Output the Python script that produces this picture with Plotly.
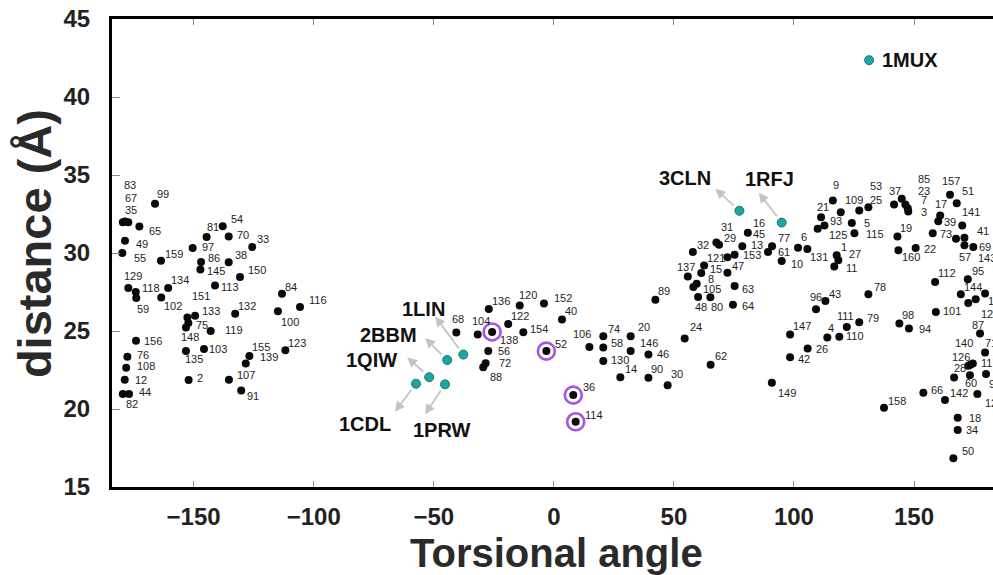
import plotly.graph_objects as go

# ---- residue-pair measurements: id, torsional angle (deg), distance (Å) ----
pair_ids = [
    "83", "67", "35", "99", "65", "49", "55", "159", "97", "81", "54", "70", "33",
    "86", "145", "38", "150", "113", "129", "118", "59", "134", "102", "84", "116",
    "132", "151", "133", "75", "148", "119", "100", "156", "103", "135", "155",
    "139", "123", "76", "108", "12", "2", "107", "91", "44", "82",
    "136", "120", "152", "122", "68", "104", "138", "154", "56", "72", "88", "52",
    "40", "106", "74", "58", "130", "20", "146", "46", "14", "90", "30", "24", "62",
    "89", "36", "114",
    "32", "137", "121", "15", "8", "105", "48", "80", "47", "63", "64", "153", "13",
    "45", "16", "31", "29", "77", "61", "10", "6", "131", "21", "9", "109", "93",
    "125", "5", "115", "1", "27", "11", "96", "43",
    "53", "25", "37", "85", "23", "7", "3", "157", "51", "17", "39", "141", "73",
    "41", "69", "57", "143", "19", "160", "22", "112", "95", "144", "128", "127", "",
    "78", "101", "87", "71", "140", "126", "117", "28", "60", "92", "124", "142",
    "66", "158", "18", "34", "50", "147", "4", "110", "111", "79", "26", "42", "149",
    "98", "94",
]
torsion = [
    -177.2, -178.6, -179.5, -166.1, -172.6, -178.6, -179.7, -163.6, -150.4, -144.6,
    -137.9, -135.4, -125.6, -146.9, -147.2, -135.4, -130.7, -141.1, -177.2, -174.1,
    -173.9, -160.6, -163.5, -113.2, -105.7, -132.7, -152.6, -149.4, -152.2, -153.2,
    -142.9, -114.9, -174.0, -145.7, -153.2, -126.8, -128.3, -111.8, -177.6, -178.1,
    -178.7, -152.1, -135.3, -130.2, -176.9, -179.5,
    -27.1, -14.2, -4.1, -19.0, -40.6, -31.7, -25.7, -12.7, -27.3, -28.4, -29.4, -3.1,
    3.4, 14.8, 20.6, 20.6, 20.6, 32.0, 32.0, 39.4, 27.7, 39.4, 47.4, 54.5, 65.3,
    42.3, 8.1, 9.1,
    57.9, 55.8, 62.6, 61.4, 59.5, 58.1, 60.1, 65.2, 72.3, 75.3, 74.6, 72.3, 75.3,
    78.5, 80.8, 67.7, 68.8, 90.9, 89.2, 94.9, 101.7, 105.6, 111.3, 116.2, 119.5,
    112.7, 109.9, 124.1, 125.2, 117.8, 118.5, 116.8, 109.2, 113.1,
    131.0, 127.2, 141.7, 144.9, 146.4, 147.4, 147.6, 165.0, 167.8, 160.9, 160.1,
    170.1, 157.8, 171.0, 174.7, 171.0, 167.5, 143.1, 143.5, 150.7, 158.8, 172.4,
    169.5, 179.6, 175.7, 172.6,
    131.0, 159.1, 177.5, 179.6, 173.5, 172.6, 174.5, 166.7, 173.3, 180.0, 176.4,
    162.9, 153.9, 137.5, 168.2, 168.2, 166.4, 98.4, 113.9, 118.9, 122.0, 127.2,
    105.7, 98.4, 90.8, 143.9, 147.9,
]
distance = [
    31.97, 32.02, 31.97, 33.16, 31.70, 30.78, 30.00, 29.51, 30.32, 31.02, 31.72,
    31.06, 30.38, 29.42, 28.94, 29.40, 28.46, 27.91, 27.75, 27.50, 27.12, 27.75,
    27.14, 27.38, 26.54, 26.10, 25.87, 25.97, 25.52, 25.22, 25.00, 26.26, 24.37,
    23.85, 23.71, 23.39, 22.92, 23.77, 23.35, 22.64, 21.88, 21.86, 21.88, 21.19,
    20.96, 20.96,
    26.41, 26.63, 26.76, 25.45, 24.90, 24.78, 24.94, 24.92, 23.71, 22.94, 22.67,
    23.71, 25.74, 23.98, 24.67, 23.94, 23.07, 24.67, 23.72, 23.49, 22.04, 22.00,
    21.52, 24.52, 22.83, 27.01, 20.89, 19.18,
    30.06, 28.50, 29.20, 28.72, 28.03, 27.82, 27.18, 27.16, 28.74, 27.88, 26.69,
    29.72, 29.89, 30.43, 31.30, 30.67, 30.53, 30.43, 30.06, 29.48, 30.34, 30.25,
    32.29, 33.36, 32.62, 31.77, 31.56, 31.92, 31.27, 29.85, 29.53, 29.14, 26.39,
    26.92,
    32.94, 32.72, 33.11, 33.47, 33.11, 32.87, 32.66, 33.74, 33.19, 32.40, 32.04,
    31.77, 31.27, 30.98, 30.38, 30.49, 30.91, 31.06, 30.17, 30.32, 28.14, 28.31,
    27.36, 27.40, 27.03, 26.80,
    27.36, 26.22, 24.84, 23.62, 22.83, 22.77, 22.92, 22.02, 22.17, 22.25, 20.96,
    20.57, 21.04, 20.08, 19.44, 18.66, 16.85, 24.78, 24.59, 24.63, 25.26, 25.56,
    23.88, 23.31, 21.68, 25.48, 25.16,
]

# pairs highlighted with a ring
ringed_ids = ["138", "52", "36", "114"]

# reference structures
struct_names = ["1LIN", "2BBM", "1QIW", "1CDL", "1PRW", "3CLN", "1RFJ", "1MUX"]
struct_torsion = [-37.7, -44.4, -51.9, -57.4, -45.3, 77.3, 94.9, 131.3]
struct_distance = [23.49, 23.14, 22.04, 21.62, 21.58, 32.71, 31.95, 42.36]

# ---- label placement (pixel offsets of the label's left edge from its dot) ----
DEFAULT_OFFSET = (6, -6)
label_offset = {
    "83": (-6, -37), "67": (-2, -23), "35": (0, -12), "99": (0, -10), "65": (8, 5),
    "49": (9, 3), "55": (10, 5), "159": (2, -7), "97": (7, -1), "81": (-2, -10),
    "54": (6, -7), "70": (6, -1), "33": (3, -8), "86": (5, -4), "145": (5, 1),
    "38": (4, -7), "150": (6, -7), "113": (4, 1), "129": (-6, -12), "118": (4, -4),
    "59": (-1, 11), "134": (1, -8), "102": (1, 8), "84": (1, -7), "116": (7, -7),
    "132": (1, -8), "151": (3, -21), "133": (5, -5), "75": (6, 2), "148": (-7, 9),
    "119": (12, -1), "100": (1, 11), "156": (6, 0), "103": (3, 0), "135": (-3, 8),
    "155": (1, -9), "139": (12, -6), "123": (1, -7), "76": (8, -2), "108": (9, -2),
    "12": (8, 0), "2": (6, -2), "107": (6, -5), "91": (4, 6), "44": (8, -2),
    "82": (1, 10),
    "136": (1, -8), "120": (-3, -11), "152": (8, -6), "122": (1, -8), "68": (-6, -14),
    "104": (-8, -13), "138": (6, 8), "154": (5, -3), "56": (8, 0), "72": (11, 0),
    "88": (5, 10), "52": (7, -7), "40": (1, -8), "106": (-18, -13), "74": (3, -7),
    "58": (6, -5), "130": (6, -1), "20": (5, -9), "146": (7, -8), "46": (7, -1),
    "14": (3, -8), "90": (1, -9), "30": (1, -11), "24": (3, -11), "62": (2, -9),
    "89": (1, -9), "36": (8, -8), "114": (7, -7),
    "32": (2, -7), "137": (-13, -9), "121": (1, -7), "15": (7, -4), "8": (9, -5),
    "105": (8, 2), "48": (-5, 10), "80": (-1, 10), "47": (3, -7), "63": (5, 3),
    "64": (7, 1), "153": (14, -2), "13": (14, -10), "45": (9, -12), "16": (3, -10),
    "31": (3, -16), "29": (3, -7), "77": (4, -8), "61": (8, 0), "10": (7, 3),
    "6": (1, -11), "131": (1, 8), "21": (-6, -10), "9": (-2, -16), "109": (2, -12),
    "93": (4, -4), "125": (9, 6), "5": (10, 0), "115": (10, 1), "1": (2, -8),
    "27": (9, -6), "11": (10, 2), "96": (-8, -12), "43": (2, -7),
    "53": (0, -21), "25": (9, -11), "37": (-7, -13), "85": (14, -20), "23": (11, -13),
    "7": (11, -8), "3": (11, 0), "157": (-10, -14), "51": (3, -12), "17": (-7, -12),
    "39": (4, 1), "141": (-2, -13), "73": (5, 1), "41": (11, -7), "69": (4, 0),
    "57": (-7, 12), "143": (20, 19), "19": (1, -8), "160": (2, 7), "22": (6, 1),
    "112": (1, -9), "95": (2, -8), "144": (1, -7), "128": (1, 7), "127": (3, 15),
    "78": (4, -7), "101": (5, -1), "87": (-10, -9), "71": (-2, -10), "140": (-17, -22),
    "126": (-18, -9), "117": (6, 0), "28": (-2, -9), "60": (-7, 8), "92": (1, 10),
    "124": (6, 9), "142": (3, -7), "66": (6, -3), "158": (2, -7), "18": (9, 0),
    "34": (6, 0), "50": (7, -7), "147": (1, -8), "4": (-1, -9), "110": (5, -1),
    "111": (-12, -11), "79": (6, -4), "26": (6, 1), "42": (6, 2), "149": (4, 10),
    "98": (1, -9), "94": (8, 0),
}
# structure names: label centre offset and arrow-tip offset from the dot (px)
struct_label_offset = {
    "1LIN": (-40, -46), "2BBM": (-59, -25), "1QIW": (-58, -17), "1CDL": (-51, 40),
    "1PRW": (-3, 46), "3CLN": (-54, -33), "1RFJ": (-12, -44),
}
struct_arrow_tip = {
    "1LIN": (-28, -38), "2BBM": (-22, -22), "1QIW": (-22, -20), "1CDL": (-21, 28),
    "1PRW": (-20, 30), "3CLN": (-24, -22), "1RFJ": (-23, -30),
}

FONT = "Liberation Sans, Arial, sans-serif"
TEXT = "#1e1e1e"

fig = go.Figure()

# rings behind the highlighted pairs
ring_x = [torsion[pair_ids.index(r)] for r in ringed_ids]
ring_y = [distance[pair_ids.index(r)] for r in ringed_ids]
fig.add_trace(go.Scatter(
    x=ring_x, y=ring_y, mode="markers", hoverinfo="skip", cliponaxis=False,
    marker=dict(symbol="circle-open", size=17, line=dict(width=2.6, color="#a653e8"),
                color="#a653e8"),
))

# all residue pairs
fig.add_trace(go.Scatter(
    x=torsion, y=distance, mode="markers", text=pair_ids, cliponaxis=False,
    marker=dict(size=8, color="#0a0a0a", line=dict(width=0)),
))

# reference structures
fig.add_trace(go.Scatter(
    x=struct_torsion, y=struct_distance, mode="markers", text=struct_names,
    cliponaxis=False,
    marker=dict(size=9, color="#1fa3a3", line=dict(width=1, color="#137777")),
))

annotations = []
for pid, xv, yv in zip(pair_ids, torsion, distance):
    if not pid:
        continue
    dx, dy = label_offset.get(pid, DEFAULT_OFFSET)
    annotations.append(dict(
        x=xv, y=yv, xref="x", yref="y", text=pid, showarrow=False,
        xanchor="left", yanchor="middle", xshift=dx, yshift=-dy,
        font=dict(family=FONT, size=11, color=TEXT),
    ))

for name, xv, yv in zip(struct_names, struct_torsion, struct_distance):
    if name in struct_arrow_tip:
        tx, ty = struct_arrow_tip[name]
        annotations.append(dict(
            x=xv, y=yv, xref="x", yref="y", text="", showarrow=True,
            xshift=tx, yshift=-ty, ax=-tx, ay=-ty,
            arrowhead=2, arrowsize=1.1, arrowwidth=1.8, arrowcolor="#c3c3c3",
            startstandoff=6,
        ))
        lx, ly = struct_label_offset[name]
        annotations.append(dict(
            x=xv, y=yv, xref="x", yref="y", text=name, showarrow=False,
            xanchor="center", yanchor="middle", xshift=lx, yshift=-ly,
            font=dict(family=FONT, size=20, color="#111111", weight="bold"),
        ))
    else:
        annotations.append(dict(
            x=xv, y=yv, xref="x", yref="y", text=name, showarrow=False,
            xanchor="left", yanchor="middle", xshift=11, yshift=0,
            font=dict(family=FONT, size=20, color="#111111", weight="bold"),
        ))

# axis titles
annotations.append(dict(
    x=0.505, y=-0.142, xref="paper", yref="paper", text="Torsional angle",
    showarrow=False, xanchor="center", yanchor="middle",
    font=dict(family=FONT, size=40, color="#2a2a2a", weight="bold"),
))
annotations.append(dict(
    x=-0.088, y=0.52, xref="paper", yref="paper", text="distance (Å)",
    showarrow=False, xanchor="center", yanchor="middle", textangle=-90,
    font=dict(family=FONT, size=47, color="#2a2a2a", weight="bold"),
))

tick_font = dict(family=FONT, size=24, color="#222222", weight="bold")

fig.update_layout(
    width=993, height=575,
    margin=dict(l=112, r=0, t=19, b=88, pad=0),
    paper_bgcolor="white", plot_bgcolor="white",
    showlegend=False,
    annotations=annotations,
    xaxis=dict(
        range=[-184, 182.9], tickvals=[-150, -100, -50, 0, 50, 100, 150],
        ticks="inside", ticklen=6, tickwidth=1, tickcolor="#8a8a8a",
        showline=True, linewidth=3, linecolor="#000000", mirror="allticks",
        showgrid=False, zeroline=False, tickfont=tick_font,
        ticklabelstandoff=6, automargin=False,
    ),
    yaxis=dict(
        range=[15, 45], tickvals=[15, 20, 25, 30, 35, 40, 45],
        ticks="inside", ticklen=8, tickwidth=1, tickcolor="#8a8a8a",
        showline=True, linewidth=3, linecolor="#000000", mirror=False,
        showgrid=False, zeroline=False, tickfont=tick_font,
        ticklabelstandoff=14, automargin=False,
    ),
)

fig.write_html("out.html")
